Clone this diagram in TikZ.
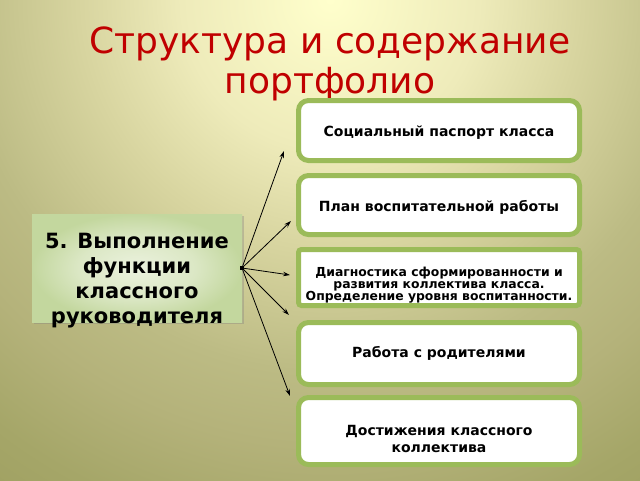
\documentclass[tikz,border=0pt]{standalone}
\usepackage{fontspec}
\setmainfont{DejaVu Sans}
\usetikzlibrary{arrows.meta,shadows}
\definecolor{bgA}{HTML}{FFFFCC}
\definecolor{bgB}{HTML}{EEEBBA}
\definecolor{bgC}{HTML}{D8D5A0}
\definecolor{bgD}{HTML}{BCBB84}
\definecolor{bgE}{HTML}{B4B27A}
\definecolor{bgF}{HTML}{A5A668}
\definecolor{bgG}{HTML}{9E9F60}
\definecolor{boxgreen}{HTML}{9BBB59}
\definecolor{titlered}{HTML}{C00000}
\definecolor{lgIn}{HTML}{EBF2DE}
\definecolor{lgOut}{HTML}{C3D79E}
\pgfdeclareradialshading{bgshade}{\pgfpoint{0bp}{0bp}}{color(0bp)=(bgA); color(6bp)=(bgB); color(10bp)=(bgC); color(15bp)=(bgD); color(18bp)=(bgE); color(21.75bp)=(bgF); color(25bp)=(bgG); color(50bp)=(bgG)}
\pgfdeclareradialshading{leftshade}{\pgfpoint{0bp}{0bp}}{color(0bp)=(lgIn); color(14bp)=(lgIn!60!lgOut); color(25bp)=(lgOut); color(50bp)=(lgOut)}
\tikzset{
  itembox/.style={draw=boxgreen, line width=5pt, fill=white, rounded corners=10pt,
    minimum width=281pt, inner sep=0pt},
  itemtext/.style={align=center, font=\bfseries\fontsize{14}{17}\selectfont, inner sep=0pt},
  mainbox/.style={shading=leftshade, minimum width=210pt, minimum height=108pt, inner sep=0pt,
    drop shadow={opacity=0.35, shadow xshift=2pt, shadow yshift=-2pt}},
  maintext/.style={align=center, font=\bfseries\fontsize{21}{25}\selectfont, inner sep=0pt},
  conn/.style={-{Stealth[length=7pt,width=4.5pt]}, line width=0.8pt, black},
  titletext/.style={text=titlered, align=center, font=\fontsize{36}{40}\selectfont}
}
\begin{document}
\begin{tikzpicture}[x=1pt,y=-1pt]
\useasboundingbox (0,0) rectangle (640,480);
\begin{scope}
\clip (0,0) rectangle (640,480);
\shade[shading=bgshade] (330,0) circle (620);
\end{scope}
\node[titletext] (title) at (330,64) {Структура и содержание\\портфолио};
\node[mainbox] (main) at (137,268) {};
\node[maintext] (maintxt) at (137,281) {5. Выполнение\\функции\\классного\\руководителя};
\node[itembox, minimum height=60pt] (b1) at (439,130.5) {};
\node[itembox, minimum height=59pt] (b2) at (439,205) {};
\node[itembox, minimum height=56pt, rounded corners=3pt] (b3) at (439,277.5) {};
\node[itembox, minimum height=62pt] (b4) at (439,353.5) {};
\node[itembox, minimum height=67pt] (b5) at (439,431) {};
\node[itemtext] (t1) at (439,132.5) {Социальный паспорт класса};
\node[itemtext] (t2) at (439,207) {План воспитательной работы};
\node[itemtext, font=\bfseries\fontsize{12.4}{12.3}\selectfont] (t3) at (439,285) {Диагностика сформированности и\\развития коллектива класса.\\Определение уровня воспитанности.};
\node[itemtext] (t4) at (439,353) {Работа с родителями};
\node[itemtext] (t5) at (439,439) {Достижения классного\\коллектива};
\coordinate (hub) at (242,268);
\coordinate (e1) at (284,151);
\coordinate (e2) at (291,221);
\coordinate (e3) at (290,275);
\coordinate (e4) at (289,315);
\coordinate (e5) at (290,396);
\foreach \e in {e1,e2,e3,e4,e5} \draw[conn] (hub) -- (\e);
\node[fill=black, minimum size=4pt, inner sep=0pt] (hubdot) at (hub) {};
\end{tikzpicture}
\end{document}
